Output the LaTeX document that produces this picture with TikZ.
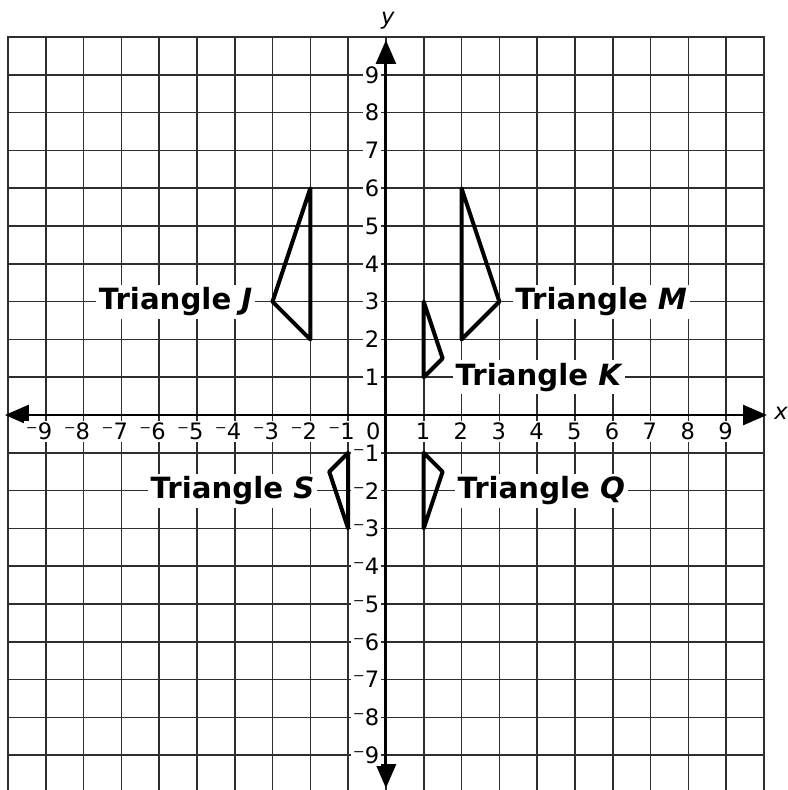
\documentclass[tikz,border=0pt]{standalone}
\usepackage{fontspec}
\setmainfont{DejaVu Sans}
\usetikzlibrary{arrows.meta, positioning}

\begin{document}
\begin{tikzpicture}[thick]

	\tikzset{
		gridline/.style={
				draw=black!82, line width=1.2pt
			},
		axis/.style={
				line width=2.2pt, {Triangle[length=18pt, width=15pt]}-{Triangle[length=18pt, width=15pt]}
			},
		tri/.style={
				line width=3pt, line join=round
			},
		numlab/.style={
				fill=white, inner sep=1.5pt, anchor=east, font=\fontsize{17}{20}\selectfont
			},
		trilab/.style={
				fill=white, inner sep=2pt, font=\fontsize{22}{26}\selectfont\bfseries
			},
	}
	\clip (-10.21,-9.92) rectangle (10.63,10.98);

	\draw[gridline] (-10,-10.5) grid (10,10);
	\draw[gridline, line width=1.7pt] (-10,-10.5) rectangle (10,10);

	% axes
	\coordinate (xmin) at (-10.08,0);
	\coordinate (xmax) at (10.08,0);
	\coordinate (ymin) at (0,-9.87);
	\coordinate (ymax) at (0,9.92);
	\draw[axis] (xmin) -- (xmax);
	\draw[axis] (ymin) -- (ymax);
	\node[font=\fontsize{17}{20}\selectfont\itshape] (xname) at (10.45,0.05) {x};
	\node[font=\fontsize{17}{20}\selectfont\itshape] (yname) at (0.05,10.42) {y};

	\foreach \i in {1,...,9}{
		\node[numlab] (xp\i) at (\i+0.24,-0.43) {\i};
		\node[numlab] (xn\i) at (-\i+0.24,-0.43) {⁻\i};
		\node[numlab] (yp\i) at (-0.11,\i) {\i};
		\node[numlab] (yn\i) at (-0.11,-\i) {⁻\i};
	}
	\node[numlab] (zero) at (-0.08,-0.43) {0};

	% triangles
	\coordinate (J1) at (-2,6);
	\coordinate (J2) at (-3,3);
	\coordinate (J3) at (-2,2);
	\coordinate (M1) at (2,6);
	\coordinate (M2) at (3,3);
	\coordinate (M3) at (2,2);
	\coordinate (K1) at (1,3);
	\coordinate (K2) at (1.5,1.5);
	\coordinate (K3) at (1,1);
	\coordinate (Q1) at (1,-1);
	\coordinate (Q2) at (1.5,-1.5);
	\coordinate (Q3) at (1,-3);
	\coordinate (S1) at (-1,-1);
	\coordinate (S2) at (-1.5,-1.5);
	\coordinate (S3) at (-1,-3);

	\draw[tri] (J1) -- (J2) -- (J3) -- cycle;
	\draw[tri] (M1) -- (M2) -- (M3) -- cycle;
	\draw[tri] (K1) -- (K2) -- (K3) -- cycle;
	\draw[tri] (Q1) -- (Q2) -- (Q3) -- cycle;
	\draw[tri] (S1) -- (S2) -- (S3) -- cycle;

	\node[trilab, anchor=east] (labJ) at (-3.45,3) {Triangle \textit{J}};
	\node[trilab, anchor=west] (labM) at (3.34,3) {Triangle \textit{M}};
	\node[trilab, anchor=west] (labK) at (1.76,1) {Triangle \textit{K}};
	\node[trilab, anchor=east] (labS) at (-1.81,-2) {Triangle \textit{S}};
	\node[trilab, anchor=west] (labQ) at (1.81,-2) {Triangle \textit{Q}};

\end{tikzpicture}
\end{document}
